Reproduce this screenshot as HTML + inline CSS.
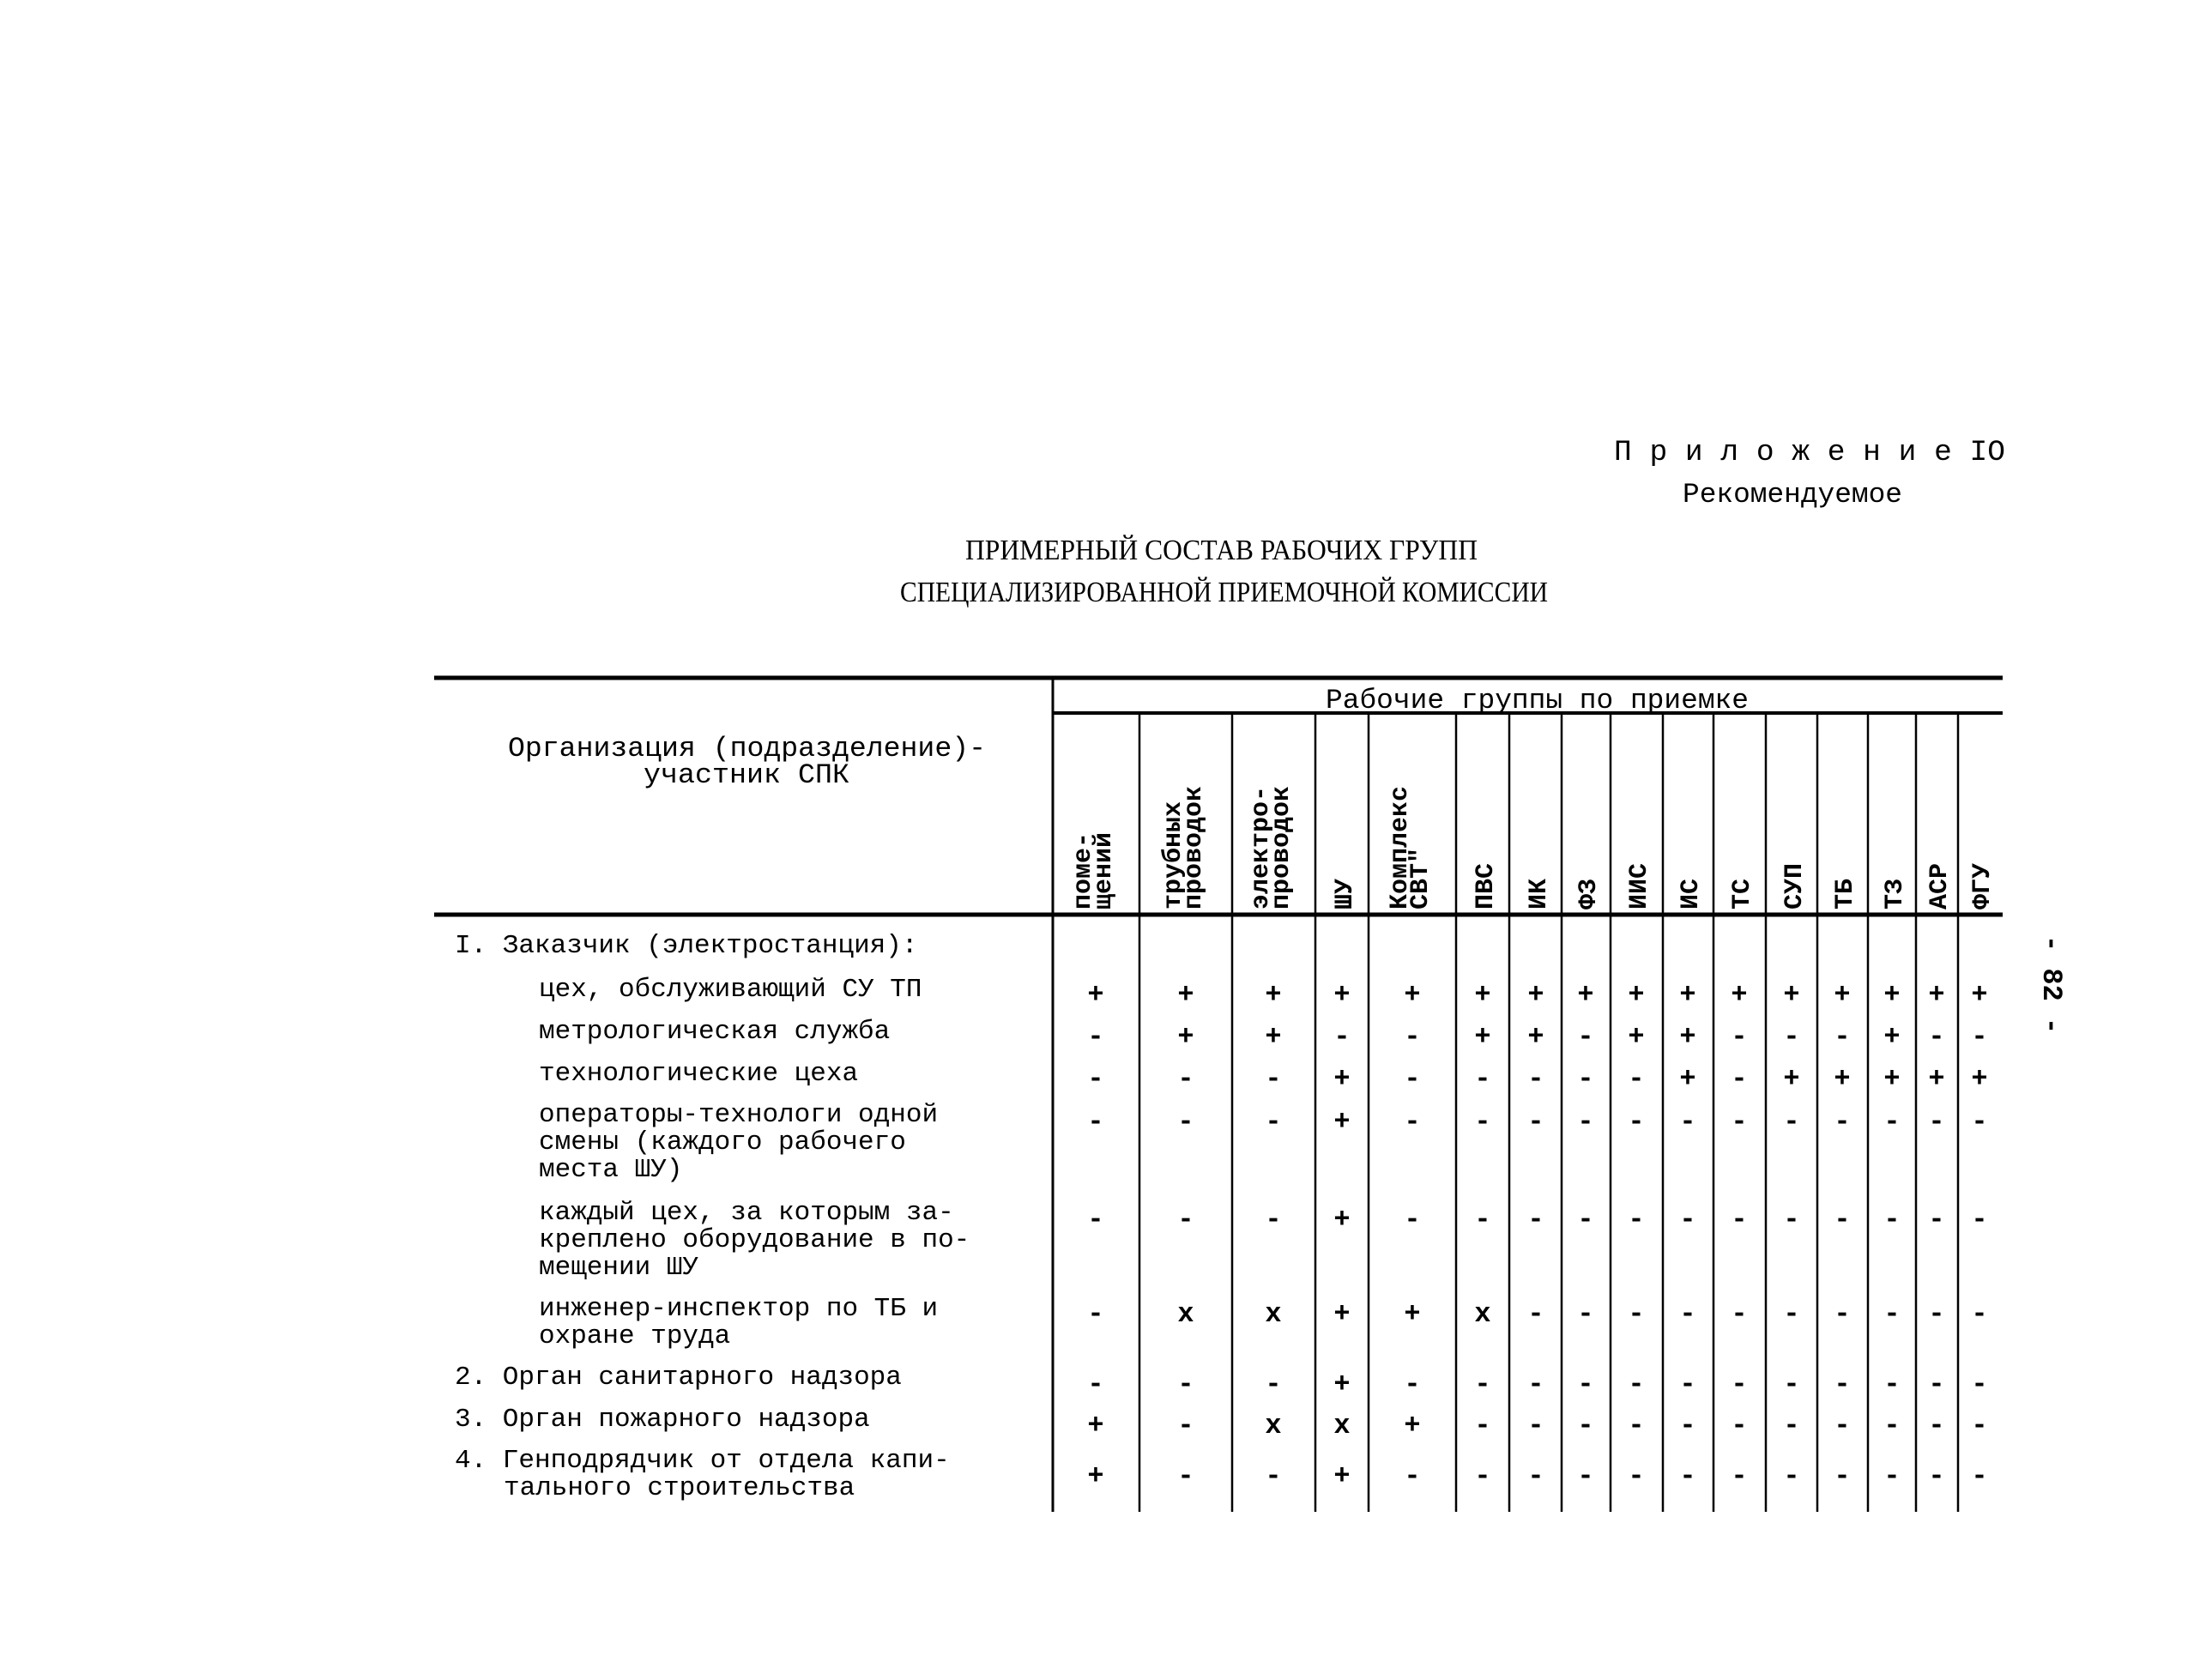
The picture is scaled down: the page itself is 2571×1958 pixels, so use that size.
<!DOCTYPE html>
<html><head><meta charset="utf-8"><style>
html,body{margin:0;padding:0;background:#fff}
svg{display:block}
text{font-family:"Liberation Mono","DejaVu Sans Mono",monospace;fill:#000}
.b{font-weight:bold}
.s{font-family:"Liberation Serif",serif}
</style></head><body>
<svg width="2571" height="1958" viewBox="0 0 2571 1958" xmlns="http://www.w3.org/2000/svg">
<text x="1881" y="536" font-size="34" textLength="456" lengthAdjust="spacingAndGlyphs">П р и л о ж е н и е  IO</text>
<text x="1961" y="585" font-size="32" textLength="256" lengthAdjust="spacingAndGlyphs">Рекомендуемое</text>
<text class="s" x="1125" y="652" font-size="34" textLength="597" lengthAdjust="spacingAndGlyphs">ПРИМЕРНЫЙ СОСТАВ РАБОЧИХ ГРУПП</text>
<text class="s" x="1049" y="701" font-size="34" textLength="755" lengthAdjust="spacingAndGlyphs">СПЕЦИАЛИЗИРОВАННОЙ ПРИЕМОЧНОЙ КОМИССИИ</text>

<g stroke="#000" fill="none">
<line x1="506" y1="790" x2="2334" y2="790" stroke-width="5"/>
<line x1="1227" y1="831" x2="2334" y2="831" stroke-width="4"/>
<line x1="506" y1="1066" x2="2334" y2="1066" stroke-width="5"/>
<line x1="1227" y1="790" x2="1227" y2="1762" stroke-width="3"/>
<g stroke-width="2.5">
<line x1="1328" y1="831" x2="1328" y2="1762"/><line x1="1436" y1="831" x2="1436" y2="1762"/>
<line x1="1533" y1="831" x2="1533" y2="1762"/><line x1="1595" y1="831" x2="1595" y2="1762"/>
<line x1="1697" y1="831" x2="1697" y2="1762"/><line x1="1759" y1="831" x2="1759" y2="1762"/>
<line x1="1820" y1="831" x2="1820" y2="1762"/><line x1="1877" y1="831" x2="1877" y2="1762"/>
<line x1="1938" y1="831" x2="1938" y2="1762"/><line x1="1997" y1="831" x2="1997" y2="1762"/>
<line x1="2058" y1="831" x2="2058" y2="1762"/><line x1="2118" y1="831" x2="2118" y2="1762"/>
<line x1="2177" y1="831" x2="2177" y2="1762"/><line x1="2233" y1="831" x2="2233" y2="1762"/>
<line x1="2282" y1="831" x2="2282" y2="1762"/>
</g></g>

<text x="1545" y="825" font-size="32" textLength="493" lengthAdjust="spacingAndGlyphs">Рабочие группы по приемке</text>
<text x="592" y="881" font-size="32" textLength="557" lengthAdjust="spacingAndGlyphs">Организация (подразделение)-</text>
<text x="750" y="912" font-size="32" textLength="240" lengthAdjust="spacingAndGlyphs">участник СПК</text>

<g class="b" font-size="30">
<text transform="translate(1270,1060) rotate(-90)">поме-</text>
<text transform="translate(1294,1060) rotate(-90)">щений</text>
<text transform="translate(1375,1060) rotate(-90)">трубных</text>
<text transform="translate(1399,1060) rotate(-90)">проводок</text>
<text transform="translate(1477,1060) rotate(-90)">электро-</text>
<text transform="translate(1501,1060) rotate(-90)">проводок</text>
<text transform="translate(1575,1060) rotate(-90)">ШУ</text>
<text transform="translate(1639,1060) rotate(-90)">Комплекс</text>
<text transform="translate(1663,1060) rotate(-90)">СВТ"</text>
<text transform="translate(1739,1060) rotate(-90)">ПВС</text>
<text transform="translate(1801,1060) rotate(-90)">ИК</text>
<text transform="translate(1859,1060) rotate(-90)">ФЗ</text>
<text transform="translate(1918,1060) rotate(-90)">ИИС</text>
<text transform="translate(1978,1060) rotate(-90)">ИС</text>
<text transform="translate(2038,1060) rotate(-90)">ТС</text>
<text transform="translate(2099,1060) rotate(-90)">СУП</text>
<text transform="translate(2158,1060) rotate(-90)">ТБ</text>
<text transform="translate(2216,1060) rotate(-90)">ТЗ</text>
<text transform="translate(2268,1060) rotate(-90)">АСР</text>
<text transform="translate(2318,1060) rotate(-90)">ФГУ</text>
</g>

<g font-size="31">
<text x="530" y="1110">I. Заказчик (электростанция):</text>
<text x="628" y="1161">цех, обслуживающий СУ ТП</text>
<text x="628" y="1210">метрологическая служба</text>
<text x="628" y="1259">технологические цеха</text>
<text x="628" y="1307">операторы-технологи одной</text>
<text x="628" y="1339">смены (каждого рабочего</text>
<text x="628" y="1371">места ШУ)</text>
<text x="628" y="1421">каждый цех, за которым за-</text>
<text x="628" y="1453">креплено оборудование в по-</text>
<text x="628" y="1485">мещении ШУ</text>
<text x="628" y="1533">инженер-инспектор по ТБ и</text>
<text x="628" y="1565">охране труда</text>
<text x="530" y="1613">2. Орган санитарного надзора</text>
<text x="530" y="1662">3. Орган пожарного надзора</text>
<text x="530" y="1710">4. Генподрядчик от отдела капи-</text>
<text x="587" y="1742">тального строительства</text>
</g>

<g class="b" font-size="32" text-anchor="middle">
<text x="1277 1382 1484 1564 1646 1728 1790 1848 1907 1967 2027 2088 2147 2205 2257 2307" y="1168">++++++++++++++++</text>
<text x="1277 1382 1484 1564 1646 1728 1790 1848 1907 1967 2027 2088 2147 2205 2257 2307" y="1217">-++--++-++---+--</text>
<text x="1277 1382 1484 1564 1646 1728 1790 1848 1907 1967 2027 2088 2147 2205 2257 2307" y="1266">---+-----+-+++++</text>
<text x="1277 1382 1484 1564 1646 1728 1790 1848 1907 1967 2027 2088 2147 2205 2257 2307" y="1316">---+------------</text>
<text x="1277 1382 1484 1564 1646 1728 1790 1848 1907 1967 2027 2088 2147 2205 2257 2307" y="1430">---+------------</text>
<text x="1277 1382 1484 1564 1646 1728 1790 1848 1907 1967 2027 2088 2147 2205 2257 2307" y="1540">-xx++x----------</text>
<text x="1277 1382 1484 1564 1646 1728 1790 1848 1907 1967 2027 2088 2147 2205 2257 2307" y="1622">---+------------</text>
<text x="1277 1382 1484 1564 1646 1728 1790 1848 1907 1967 2027 2088 2147 2205 2257 2307" y="1670">+-xx+-----------</text>
<text x="1277 1382 1484 1564 1646 1728 1790 1848 1907 1967 2027 2088 2147 2205 2257 2307" y="1729">+--+------------</text>
</g>

<text transform="translate(2382,1090) rotate(90)" font-size="32" class="b">- 82 -</text>
</svg>
</body></html>
